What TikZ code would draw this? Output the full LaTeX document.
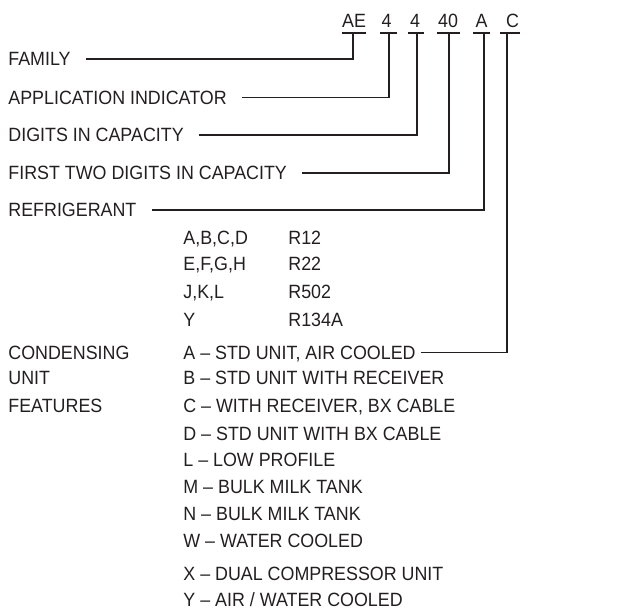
\documentclass[tikz,border=0pt]{standalone}
\usepackage{fontspec}
\setmainfont{Liberation Sans}[FakeStretch=0.93]
\definecolor{ink}{HTML}{231F20}
\tikzset{
  lbl/.style={anchor=west,inner sep=0pt,text height=6.87pt,text depth=0pt,
    font=\fontsize{9.6}{11}\selectfont,text=ink},
  code/.style={lbl,anchor=center},
  lead/.style={draw=ink,line width=0.55pt}
}
\begin{document}
\begin{tikzpicture}[x=0.5pt,y=-0.5pt]
  \useasboundingbox (0,0) rectangle (619,608);
  % Model number
  \node[code] (cAE) at (354,20.5) {AE};
  \node[code] (cApp) at (386.5,20.5) {4};
  \node[code] (cDig) at (415,20.5) {4};
  \node[code] (cCap) at (448,20.5) {40};
  \node[code] (cRef) at (481.5,20.5) {A};
  \node[code] (cFeat) at (512.5,20.5) {C};
  % Tick marks under the code
  \coordinate (tAE) at (353,33);
  \coordinate (tApp) at (389,33);
  \coordinate (tDig) at (417,33);
  \coordinate (tCap) at (449,33);
  \coordinate (tRef) at (484,33);
  \coordinate (tFeat) at (507,33);
  \draw[lead] (342,33) -- (366,33);
  \draw[lead] (380,33) -- (397,33);
  \draw[lead] (408,33) -- (424,33);
  \draw[lead] (437,33) -- (460,33);
  \draw[lead] (473,33) -- (490,33);
  \draw[lead] (500,33) -- (520,33);
  % Labels
  \node[lbl] (fam) at (8,59) {FAMILY};
  \node[lbl] (appl) at (8,97.5) {APPLICATION INDICATOR};
  \node[lbl] (digits) at (8,135) {DIGITS IN CAPACITY};
  \node[lbl] (first) at (8,173) {FIRST TWO DIGITS IN CAPACITY};
  \node[lbl] (refr) at (8,210) {REFRIGERANT};
  % Leaders
  \draw[lead] ([xshift=7.5pt]fam.east) -| (tAE);
  \draw[lead] ([xshift=7.5pt]appl.east) -| (tApp);
  \draw[lead] ([xshift=7.5pt]digits.east) -| (tDig);
  \draw[lead] ([xshift=7.5pt]first.east) -| (tCap);
  \draw[lead] ([xshift=7.5pt]refr.east) -| (tRef);
  % Refrigerant table
  \node[lbl] (rA) at (183,237.5) {A,B,C,D};
  \node[lbl] (rE) at (183,264) {E,F,G,H};
  \node[lbl] (rJ) at (183,291.5) {J,K,L};
  \node[lbl] (rY) at (183,319.5) {Y};
  \node[lbl] (r12) at (288,237.5) {R12};
  \node[lbl] (r22) at (288,264) {R22};
  \node[lbl] (r502) at (288,291.5) {R502};
  \node[lbl] (r134) at (288,319.5) {R134A};
  % Condensing unit features
  \node[lbl] (cond) at (8,352.5) {CONDENSING};
  \node[lbl] (unit) at (8,377.5) {UNIT};
  \node[lbl] (feat) at (8,406) {FEATURES};
  \node[lbl] (fA) at (183,352.5) {A – STD UNIT, AIR COOLED};
  \node[lbl] (fB) at (183,377.5) {B – STD UNIT WITH RECEIVER};
  \node[lbl] (fC) at (183,406) {C – WITH RECEIVER, BX CABLE};
  \node[lbl] (fD) at (183,433.5) {D – STD UNIT WITH BX CABLE};
  \node[lbl] (fL) at (183,460) {L – LOW PROFILE};
  \node[lbl] (fM) at (183,487) {M – BULK MILK TANK};
  \node[lbl] (fN) at (183,514) {N – BULK MILK TANK};
  \node[lbl] (fW) at (183,540.5) {W – WATER COOLED};
  \node[lbl] (fX) at (183,573.5) {X – DUAL COMPRESSOR UNIT};
  \node[lbl] (fY) at (183,600) {Y – AIR / WATER COOLED};
  \draw[lead] ([xshift=2.5pt]fA.east) -| (tFeat);
\end{tikzpicture}
\end{document}
